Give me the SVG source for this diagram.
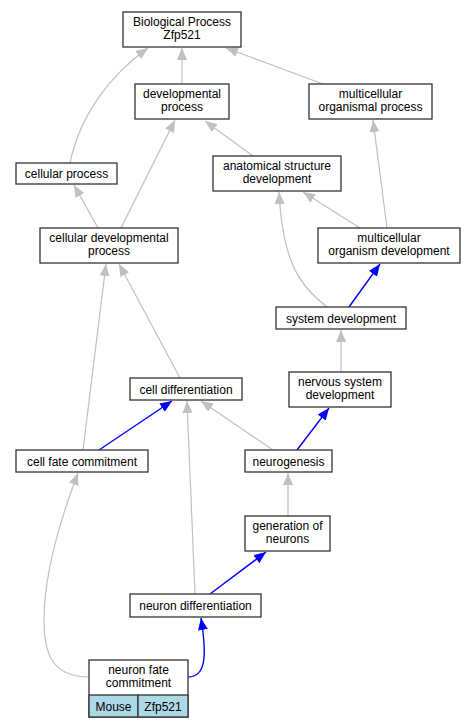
<svg xmlns="http://www.w3.org/2000/svg" width="476" height="728" viewBox="0 0 476 728">
<style>
.n rect{fill:#fff;stroke:#333;stroke-width:1.3}
.n text{font-family:"Liberation Sans",Arial,sans-serif;font-size:12px;text-anchor:middle;fill:#000}
.g{fill:none;stroke:#c0c0c0;stroke-width:1.2}
.b{fill:none;stroke:#0000ff;stroke-width:1.4}
</style>
<defs>
<marker id="ag" markerUnits="userSpaceOnUse" markerWidth="12" markerHeight="10" viewBox="0 0 12 10" refX="12" refY="5" orient="auto"><path d="M0,0 L12,5 L0,10 Z" fill="#c0c0c0"/></marker>
<marker id="ab" markerUnits="userSpaceOnUse" markerWidth="12" markerHeight="10" viewBox="0 0 12 10" refX="12" refY="5" orient="auto"><path d="M0,0 L12,5 L0,10 Z" fill="#0000ff"/></marker>
</defs>
<rect width="476" height="728" fill="#fff"/>
<g id="connectors">
<path class="g" marker-end="url(#ag)" d="M182,84 L182,48"/>
<path class="g" marker-end="url(#ag)" d="M323,84 L226,48"/>
<path class="g" marker-end="url(#ag)" d="M70,163 C80,115 110,75 148,48"/>
<path class="g" marker-end="url(#ag)" d="M98,228 L74,185"/>
<path class="g" marker-end="url(#ag)" d="M121,228 L175,120"/>
<path class="g" marker-end="url(#ag)" d="M253,156 L205,121"/>
<path class="g" marker-end="url(#ag)" d="M360,228 L303,192"/>
<path class="g" marker-end="url(#ag)" d="M387,228 L373,120"/>
<path class="g" marker-end="url(#ag)" d="M327,307 C300,285 283,265 279,192"/>
<path class="b" marker-end="url(#ab)" d="M349,307 L380,264"/>
<path class="g" marker-end="url(#ag)" d="M341,372 L341,330"/>
<path class="g" marker-end="url(#ag)" d="M180,378 L119,264"/>
<path class="g" marker-end="url(#ag)" d="M83,450 L106,264"/>
<path class="b" marker-end="url(#ab)" d="M99,450 L172,401"/>
<path class="g" marker-end="url(#ag)" d="M273,450 L201,401"/>
<path class="b" marker-end="url(#ab)" d="M297,450 L329,408"/>
<path class="g" marker-end="url(#ag)" d="M288,516 L288,473"/>
<path class="g" marker-end="url(#ag)" d="M195,594 L187,401"/>
<path class="b" marker-end="url(#ab)" d="M210,594 L266,552"/>
<path class="b" marker-end="url(#ab)" d="M188,677 C206,677 207,656 201,618"/>
<path class="g" marker-end="url(#ag)" d="M89,677 C50,677 44,650 44,620 C44,570 62,515 78,473"/>
</g>
<g id="n_bp" class="n"><rect x="123" y="12" width="118" height="35"/><text x="182" y="26">Biological Process</text><text x="182" y="39">Zfp521</text></g>
<g id="n_dev" class="n"><rect x="135" y="84" width="94" height="35"/><text x="182" y="98">developmental</text><text x="182" y="111">process</text></g>
<g id="n_mop" class="n"><rect x="309" y="84" width="123" height="35"/><text x="370.5" y="98">multicellular</text><text x="370.5" y="111">organismal process</text></g>
<g id="n_cp" class="n"><rect x="16" y="163" width="101" height="21"/><text x="66.5" y="178">cellular process</text></g>
<g id="n_asd" class="n"><rect x="213" y="156" width="128" height="35"/><text x="277" y="170">anatomical structure</text><text x="277" y="183">development</text></g>
<g id="n_cdp" class="n"><rect x="40" y="228" width="138" height="35"/><text x="109" y="242">cellular developmental</text><text x="109" y="255">process</text></g>
<g id="n_mod" class="n"><rect x="318" y="228" width="142" height="35"/><text x="389" y="242">multicellular</text><text x="389" y="255">organism development</text></g>
<g id="n_sd" class="n"><rect x="276" y="307" width="130" height="22"/><text x="341" y="322.5">system development</text></g>
<g id="n_nsd" class="n"><rect x="289" y="372" width="102" height="35"/><text x="340" y="386">nervous system</text><text x="340" y="399">development</text></g>
<g id="n_cd" class="n"><rect x="130" y="378" width="112" height="22"/><text x="186" y="393.5">cell differentiation</text></g>
<g id="n_cfc" class="n"><rect x="16" y="450" width="132" height="22"/><text x="82" y="465.5">cell fate commitment</text></g>
<g id="n_ng" class="n"><rect x="245" y="450" width="87" height="22"/><text x="288.5" y="465.5">neurogenesis</text></g>
<g id="n_gon" class="n"><rect x="245" y="516" width="85" height="35"/><text x="287.5" y="530">generation of</text><text x="287.5" y="543">neurons</text></g>
<g id="n_nd" class="n"><rect x="130" y="594" width="131" height="23"/><text x="195.5" y="610">neuron differentiation</text></g>
<g id="n_nfc" class="n"><rect x="89" y="660" width="99" height="57"/><rect x="89" y="695" width="49" height="22" style="fill:#add8e6"/><rect x="138" y="695" width="50" height="22" style="fill:#add8e6"/><text x="138.5" y="674">neuron fate</text><text x="138.5" y="687">commitment</text><text x="113.5" y="710.5">Mouse</text><text x="163" y="710.5">Zfp521</text></g>
</svg>
